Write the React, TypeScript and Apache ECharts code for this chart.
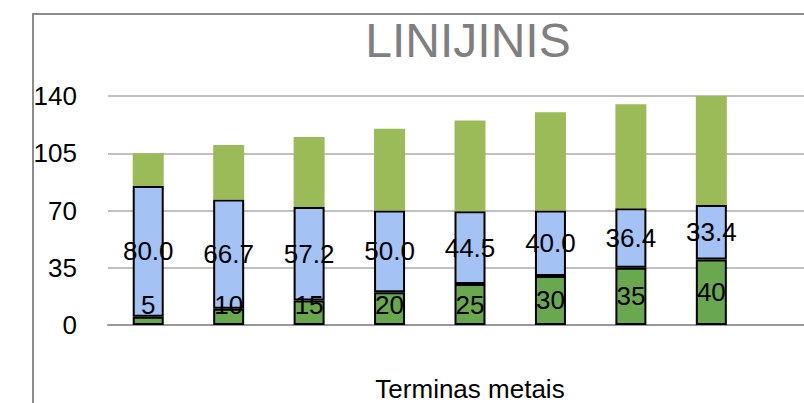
import React, { useEffect, useRef } from "react";
import * as echarts from "echarts";

const categories = ["1", "2", "3", "4", "5", "6", "7", "8", "9"];
const baseValues = [5, 10, 15, 20, 25, 30, 35, 40];
const middleValues = [80.0, 66.7, 57.2, 50.0, 44.5, 40.0, 36.4, 33.4];
const topValues = [20, 33.3, 42.8, 50, 55.5, 60, 63.6, 66.6];
const yTicks = { min: 0, max: 140, interval: 35 };
const titleText = "LINIJINIS";
const xAxisName = "Terminas metais";

const FONT = "Liberation Sans, Arial, sans-serif";

export default function App() {
  const ref = useRef<HTMLDivElement>(null);
  useEffect(() => {
    if (!ref.current) return;
    const chart = echarts.init(ref.current, undefined, { renderer: "svg" });
    chart.setOption({
      animation: false,
      textStyle: { fontFamily: FONT },
      graphic: [
        {
          type: "rect",
          shape: { x: 33, y: 14, width: 900, height: 600 },
          style: { fill: "none", stroke: "#8c8c8c", lineWidth: 2 },
          z: -1,
        },
        {
          type: "text",
          x: 468,
          y: 40,
          style: {
            text: titleText,
            fontSize: 48,
            fontFamily: FONT,
            fill: "#7f7f7f",
            textAlign: "center",
            textVerticalAlign: "middle",
          },
        },
      ],
      grid: { left: 108, top: 96, width: 724, height: 229, outerBoundsMode: "none", containLabel: false },
      xAxis: {
        type: "category",
        data: categories,
        name: xAxisName,
        nameLocation: "middle",
        nameGap: 51,
        nameTextStyle: { fontSize: 26, lineHeight: 26, color: "#000", fontFamily: FONT },
        axisLine: { lineStyle: { color: "#999999", width: 2 } },
        axisTick: { show: false },
        axisLabel: { show: false },
      },
      yAxis: {
        type: "value",
        min: yTicks.min,
        max: yTicks.max,
        interval: yTicks.interval,
        axisLine: { show: false },
        axisTick: { show: false },
        axisLabel: { fontSize: 26, color: "#000", margin: 31, fontFamily: FONT },
        splitLine: { lineStyle: { color: "#c0c0c0", width: 2 } },
      },
      series: [
        {
          type: "bar",
          stack: "s",
          barWidth: 31,
          data: baseValues.map((v) => ({
            value: v,
            label: { position: v < 25 ? "insideBottom" : "inside", distance: 7 },
          })),
          itemStyle: { color: "#6aa84f", borderColor: "#000", borderWidth: 2 },
          label: {
            show: true,
            fontSize: 26,
            color: "#000",
            fontFamily: FONT,
            formatter: (p: any) => String(p.value),
          },
        },
        {
          type: "bar",
          stack: "s",
          barWidth: 31,
          data: middleValues,
          itemStyle: { color: "#a4c2f4", borderColor: "#000", borderWidth: 2 },
          label: {
            show: true,
            position: "inside",
            fontSize: 26,
            color: "#000",
            fontFamily: FONT,
            formatter: (p: any) => Number(p.value).toFixed(1),
          },
        },
        {
          type: "bar",
          stack: "s",
          barWidth: 31,
          data: topValues,
          itemStyle: { color: "#9bbb59" },
          label: { show: false },
        },
      ],
    });
    return () => chart.dispose();
  }, []);
  return (
    <div
      ref={ref}
      style={{ position: "fixed", left: 0, top: 0, width: 804, height: 403, background: "#fff" }}
    />
  );
}
